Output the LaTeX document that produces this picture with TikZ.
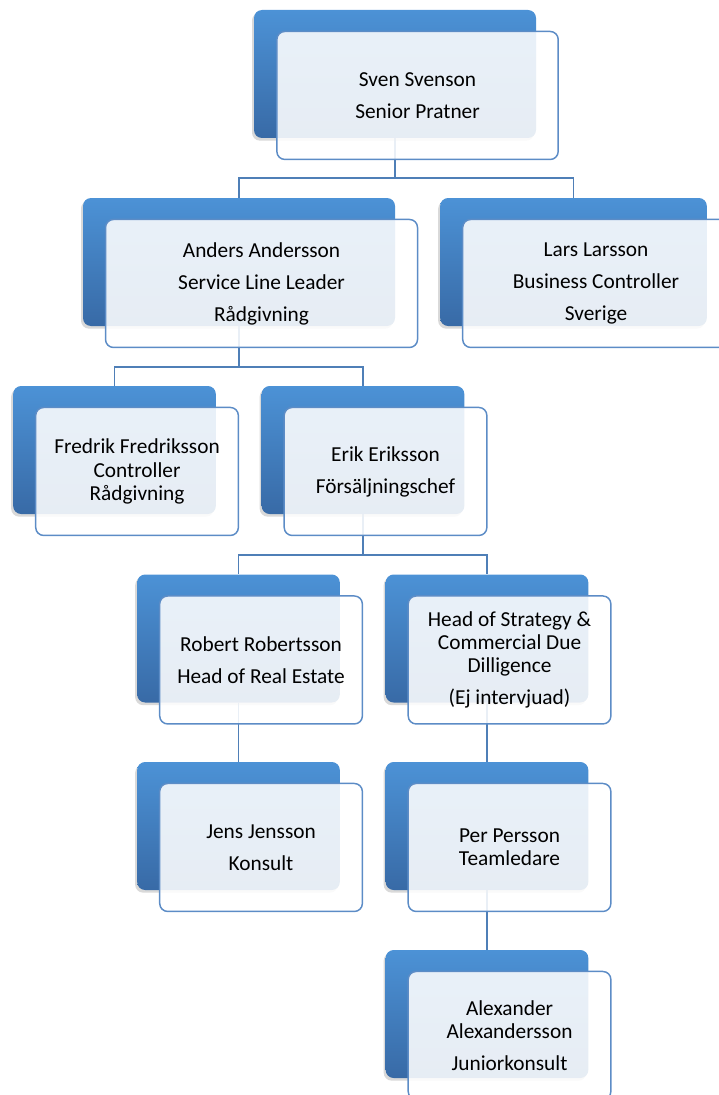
\documentclass[tikz,border=0pt]{standalone}
\usepackage{fontspec}
\setmainfont{Carlito}
\usepackage{tikz}
\usetikzlibrary{positioning, calc, backgrounds, shadows}

\definecolor{blueTop}{RGB}{76,146,214}
\definecolor{blueBot}{RGB}{56,106,166}
\definecolor{frameBlue}{RGB}{92,140,198}
\definecolor{linkBlue}{RGB}{79,127,183}

\begin{document}
\begin{tikzpicture}[x=0.75pt, y=-0.75pt,
	back/.style={rounded corners=6pt, top color=blueTop, bottom color=blueBot, draw=none,
		minimum height=96pt, inner sep=0pt,
		drop shadow={shadow xshift=-1.5pt, shadow yshift=-2pt, opacity=0.3}},
	front/.style={rounded corners=6pt, draw=frameBlue, line width=1.1pt, fill=white, fill opacity=0.88,
		text opacity=1, minimum height=96pt, inner sep=0pt, align=center,
		font=\fontsize{16pt}{17.5pt}\selectfont,
		execute at begin node={\vspace*{3.5pt}}},
	link/.style={draw=linkBlue, line width=1.3pt}]
				\useasboundingbox (0,0) rectangle (718,1095);

				% Top level
				\node[back, minimum width=211.5pt] (svenB) at (395,74) {};
				\node[front, minimum width=211pt] (sven) at ([xshift=16.9pt, yshift=-16.1pt]svenB.center) {Sven Svenson\\[6.5pt]Senior Pratner};

				% Second level
				\node[back, minimum width=234pt] (andersB) at (239,262) {};
				\node[front, minimum width=234pt] (anders) at ([xshift=16.9pt, yshift=-16.1pt]andersB.center) {Anders Andersson\\[6.5pt]Service Line Leader\\[6.5pt]Rådgivning};

				\node[back, minimum width=200pt] (larsB) at (573.5,262) {};
				\node[front, minimum width=200pt] (lars) at ([xshift=16.9pt, yshift=-16.1pt]larsB.center) {Lars Larsson\\[6.5pt]Business Controller\\[6.5pt]Sverige};

				% Third level
				\node[back, minimum width=152pt] (fredrikB) at (114.5,450) {};
				\node[front, minimum width=152pt] (fredrik) at ([xshift=16.9pt, yshift=-16.1pt]fredrikB.center) {Fredrik Fredriksson\\Controller\\Rådgivning};

				\node[back, minimum width=152pt] (erikB) at (363,450) {};
				\node[front, minimum width=152pt] (erik) at ([xshift=16.9pt, yshift=-16.1pt]erikB.center) {Erik Eriksson\\[6.5pt]Försäljningschef};

				% Fourth level
				\node[back, minimum width=152pt] (robertB) at (238.5,638.5) {};
				\node[front, minimum width=152pt] (robert) at ([xshift=16.9pt, yshift=-16.1pt]robertB.center) {Robert Robertsson\\[6.5pt]Head of Real Estate};

				\node[back, minimum width=152pt] (strategyB) at (487,638.5) {};
				\node[front, minimum width=152pt] (strategy) at ([xshift=16.9pt, yshift=-16.1pt]strategyB.center) {Head of Strategy \&\\Commercial Due\\Dilligence\\[6.5pt](Ej intervjuad)};

				% Fifth level
				\node[back, minimum width=152pt] (jensB) at (238.5,826) {};
				\node[front, minimum width=152pt] (jens) at ([xshift=16.9pt, yshift=-16.1pt]jensB.center) {Jens Jensson\\[6.5pt]Konsult};

				\node[back, minimum width=152pt] (perB) at (487,826) {};
				\node[front, minimum width=152pt] (per) at ([xshift=16.9pt, yshift=-16.1pt]perB.center) {Per Persson\\Teamledare};

				% Sixth level
				\node[back, minimum width=152pt] (alexB) at (487,1014) {};
				\node[front, minimum width=152pt] (alex) at ([xshift=16.9pt, yshift=-16.1pt]alexB.center) {Alexander\\Alexandersson\\[6.5pt]Juniorkonsult};

				% Connectors behind the boxes
				\begin{scope}[on background layer]
					\draw[link] (svenB.south) -- ++(0,40) -| (andersB.north);
					\draw[link] (svenB.south) -- ++(0,40) -| (larsB.north);
					\draw[link] (andersB.south) -- ++(0,41) -| (fredrikB.north);
					\draw[link] (andersB.south) -- ++(0,41) -| (erikB.north);
					\draw[link] (erikB.south) -- ++(0,41) -| (robertB.north);
					\draw[link] (erikB.south) -- ++(0,41) -| (strategyB.north);
					\draw[link] (robertB.south) -- (jensB.north);
					\draw[link] (strategyB.south) -- (perB.north);
					\draw[link] (perB.south) -- (alexB.north);
				\end{scope}
			\end{tikzpicture}
\end{document}
